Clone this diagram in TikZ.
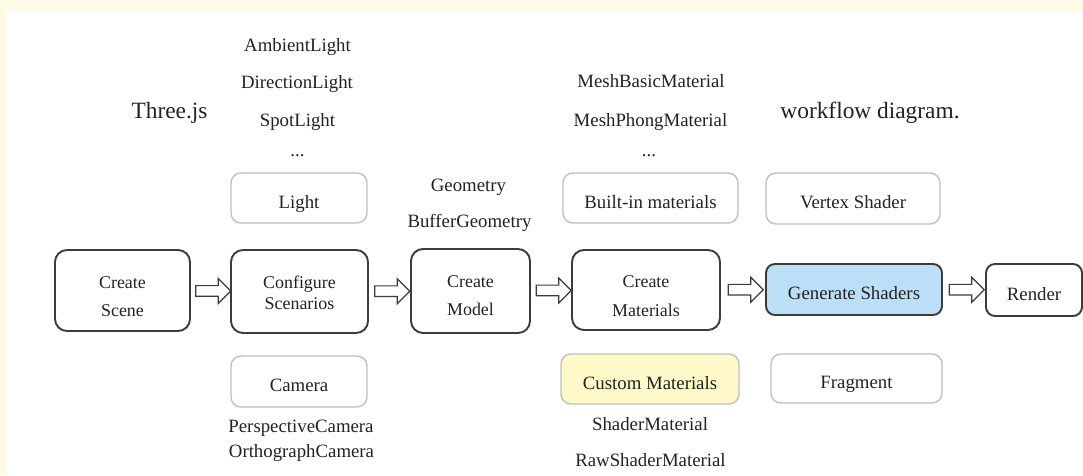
\documentclass[tikz,border=0pt]{standalone}
\usepackage{fontspec}
\setmainfont{Liberation Serif}
\usetikzlibrary{shapes.arrows}
\definecolor{paper}{HTML}{FFF9E6}
\definecolor{boxline}{HTML}{3C3C3C}
\definecolor{softline}{HTML}{C0C0C0}
\definecolor{shaderblue}{HTML}{BDDEF7}
\definecolor{customyellow}{HTML}{FFF8C8}
\definecolor{ink}{HTML}{222222}
\begin{document}
\begin{tikzpicture}[text=ink,
  stagebox/.style={draw=boxline,line width=1.1pt,rounded corners=0.24cm,fill=white,inner sep=0pt,align=center,
    font=\fontsize{10.2}{12}\selectfont,text height=32pt,text depth=2pt},
  onebox/.style={inner sep=0pt,font=\fontsize{10.7}{12.8}\selectfont,text height=1.35em,text depth=0.2em},
  sidebox/.style={onebox,draw=softline,line width=0.8pt,rounded corners=0.2cm,fill=white},
  lbl/.style={anchor=base,inner sep=0pt,font=\fontsize{10.7}{12.8}\selectfont},
  headline/.style={anchor=base,inner sep=0pt,font=\fontsize{13.3}{16}\selectfont},
  flowarrow/.style={single arrow,draw=boxline,line width=0.7pt,fill=white,inner sep=0.095cm,
    minimum height=0.7cm,single arrow head extend=0.14cm,single arrow tip angle=90}]
\useasboundingbox (0,0) rectangle (21.66,9.5);
\fill[paper] (0,0) rectangle (21.66,9.5);
\fill[white] (0.11,0) rectangle (21.66,9.28);
% main row: the pipeline stages
\node[stagebox,minimum width=2.70cm,minimum height=1.62cm] (scene) at (2.45,3.69) {Create\\[4.2pt]Scene};
\node[stagebox,text height=23pt,minimum width=2.74cm,minimum height=1.66cm] (config) at (5.99,3.67) {Configure\\Scenarios};
\node[stagebox,text height=30pt,minimum width=2.38cm,minimum height=1.68cm] (model) at (9.41,3.68) {Create\\[4.2pt]Model};
\node[stagebox,minimum width=2.96cm,minimum height=1.60cm] (mat) at (12.92,3.70) {Create\\[4.2pt]Materials};
\node[stagebox,onebox,fill=shaderblue,rounded corners=0.18cm,minimum width=3.52cm,minimum height=1.02cm] (shaders) at (17.08,3.71) {Generate Shaders};
\node[stagebox,onebox,rounded corners=0.18cm,minimum width=1.92cm,minimum height=1.04cm] (render) at (20.68,3.70) {Render};
\foreach \A/\B in {scene/config,config/model,model/mat,mat/shaders,shaders/render}{\path (\A.east) -- node[flowarrow] {} (\B.west);}
% side boxes above and below
\node[sidebox,minimum width=2.72cm,minimum height=1.00cm] (light) at (5.98,5.54) {Light};
\node[sidebox,minimum width=3.50cm,minimum height=1.00cm] (builtin) at (13.01,5.54) {Built-in materials};
\node[sidebox,minimum width=3.48cm,minimum height=1.02cm] (vertex) at (17.06,5.53) {Vertex Shader};
\node[sidebox,minimum width=2.72cm,minimum height=1.02cm] (camera) at (5.98,1.87) {Camera};
\node[sidebox,fill=customyellow,minimum width=3.56cm,minimum height=1.00cm] (custom) at (13.00,1.92) {Custom Materials};
\node[sidebox,minimum width=3.42cm,minimum height=0.98cm] (fragment) at (17.13,1.93) {Fragment};
% class names listed next to the boxes
\node[lbl] (ambient) at (5.95,8.46) {AmbientLight};
\node[lbl] (direction) at (5.94,7.72) {DirectionLight};
\node[lbl] (spot) at (5.95,6.96) {SpotLight};
\node[lbl] (ldots) at (5.95,6.36) {...};
\node[lbl] (basic) at (13.02,7.74) {MeshBasicMaterial};
\node[lbl] (phong) at (13.01,6.96) {MeshPhongMaterial};
\node[lbl] (mdots) at (12.98,6.36) {...};
\node[lbl] (geom) at (9.37,5.66) {Geometry};
\node[lbl] (bufgeom) at (9.39,4.94) {BufferGeometry};
\node[lbl] (persp) at (6.02,0.86) {PerspectiveCamera};
\node[lbl] (ortho) at (6.03,0.36) {OrthographCamera};
\node[lbl] (shadermat) at (13.00,0.90) {ShaderMaterial};
\node[lbl] (rawshader) at (13.01,0.16) {RawShaderMaterial};
% caption words
\node[headline] (three) at (3.39,7.12) {Three.js};
\node[headline] (workflow) at (17.40,7.12) {workflow diagram.};
\end{tikzpicture}
\end{document}
